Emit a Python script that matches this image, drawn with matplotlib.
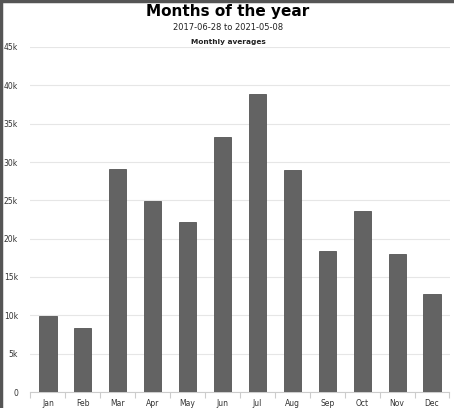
import numpy as np
import matplotlib.pyplot as plt
from matplotlib.lines import Line2D

# Data
months = ['Jan', 'Feb', 'Mar', 'Apr', 'May', 'Jun', 'Jul', 'Aug', 'Sep', 'Oct', 'Nov', 'Dec']
averages = [9900, 8300, 29100, 24900, 22200, 33300, 38900, 28900, 18400, 23600, 18000, 12800]
y_ticks = [0, 5000, 10000, 15000, 20000, 25000, 30000, 35000, 40000, 45000]
y_labels = ['0', '5k', '10k', '15k', '20k', '25k', '30k', '35k', '40k', '45k']

fig = plt.figure(figsize=(4.54, 4.08), dpi=100)
ax = fig.add_axes([30.5 / 454, 16 / 408, 419 / 454, 345 / 408])

x = np.arange(len(months))
ax.bar(x, averages, width=0.49, color='#636363', edgecolor='#555555', linewidth=0.6, zorder=3)

ax.set_xlim(-0.5, len(months) - 0.5)
ax.set_ylim(0, 45000)
ax.set_yticks(y_ticks)
ax.set_yticklabels(y_labels)
ax.set_xticks(x)
ax.set_xticklabels(months)
ax.set_xticks(np.arange(-0.5, len(months), 1), minor=True)

ax.grid(axis='y', color='#e6e6e6', linewidth=0.8, zorder=0)
for s in ['left', 'right', 'top']:
    ax.spines[s].set_visible(False)
ax.spines['bottom'].set_color('#cccccc')
ax.spines['bottom'].set_linewidth(0.8)

ax.tick_params(axis='y', length=0, labelsize=5.5, labelcolor='#333333', pad=9)
ax.tick_params(axis='x', which='major', length=0, labelsize=5.5, labelcolor='#333333', pad=5)
ax.tick_params(axis='x', which='minor', length=4, color='#cccccc', width=0.8)

fig.text(0.502, 0.973, 'Months of the year', ha='center', va='center', fontsize=11, fontweight='bold')
fig.text(0.502, 0.933, '2017-06-28 to 2021-05-08', ha='center', va='center', fontsize=6, color='#222222')
fig.text(0.502, 0.898, 'Monthly averages', ha='center', va='center', fontsize=5.3, fontweight='bold', color='#222222')

# dark frame on left and top edges
fig.add_artist(Line2D([0.002, 0.002], [0, 1], transform=fig.transFigure, color='#555555', linewidth=2.5))
fig.add_artist(Line2D([0, 1], [0.998, 0.998], transform=fig.transFigure, color='#555555', linewidth=2.5))

fig.savefig('out.png', dpi=100)
